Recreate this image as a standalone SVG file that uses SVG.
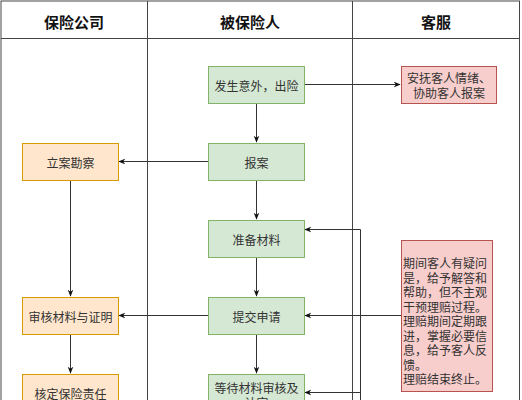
<svg xmlns="http://www.w3.org/2000/svg" width="522" height="400" viewBox="0 0 522 400">
<style>
.lane{fill:none;stroke:#444;stroke-width:1}
.hdr{font-family:"Noto Sans CJK SC","Liberation Sans",sans-serif;font-size:15px;font-weight:bold;fill:#111;text-anchor:middle;dominant-baseline:central}
.t{font-family:"Noto Sans CJK SC","Liberation Sans",sans-serif;font-size:12px;fill:#333;text-anchor:middle;dominant-baseline:central}
.tl{font-family:"Noto Sans CJK SC","Liberation Sans",sans-serif;font-size:12px;fill:#333;dominant-baseline:central}
.g{fill:#d5e8d4;stroke:#82b366}
.o{fill:#ffe6cc;stroke:#d79b00}
.r{fill:#f8cecc;stroke:#b85450}
.c{fill:none;stroke:#333;stroke-width:1}
</style>
<defs>
<marker id="a" viewBox="0 0 10 10" refX="9" refY="5" markerWidth="7" markerHeight="7" orient="auto" markerUnits="userSpaceOnUse"><path d="M0,1 L10,5 L0,9 L3,5 Z" fill="#111"/></marker>
</defs>
<rect width="522" height="400" fill="#fff"/>
<g id="lanes">
<rect class="lane" x="1" y="1" width="518.5" height="410"/>
<line class="lane" x1="1" y1="38.5" x2="519.5" y2="38.5"/>
<line class="lane" x1="147.5" y1="1" x2="147.5" y2="400"/>
<line class="lane" x1="352.5" y1="1" x2="352.5" y2="400"/>
<text class="hdr" x="74" y="21">保险公司</text>
<text class="hdr" x="250" y="21">被保险人</text>
<text class="hdr" x="436" y="21">客服</text>
</g>
<g id="connectors">
<line class="c" x1="304" y1="84.5" x2="400" y2="84.5" marker-end="url(#a)"/>
<line class="c" x1="256.5" y1="103" x2="256.5" y2="142" marker-end="url(#a)"/>
<line class="c" x1="256.5" y1="180" x2="256.5" y2="219" marker-end="url(#a)"/>
<line class="c" x1="256.5" y1="257" x2="256.5" y2="296" marker-end="url(#a)"/>
<line class="c" x1="256.5" y1="334" x2="256.5" y2="373" marker-end="url(#a)"/>
<line class="c" x1="208" y1="161.5" x2="119" y2="161.5" marker-end="url(#a)"/>
<line class="c" x1="70.5" y1="180" x2="70.5" y2="296" marker-end="url(#a)"/>
<line class="c" x1="208" y1="315.5" x2="119" y2="315.5" marker-end="url(#a)"/>
<line class="c" x1="70.5" y1="334" x2="70.5" y2="373" marker-end="url(#a)"/>
<line class="c" x1="401" y1="315.5" x2="305" y2="315.5" marker-end="url(#a)"/>
<path class="c" d="M360.5,400 L360.5,229.5 L305,229.5" marker-end="url(#a)"/>
<path class="c" d="M360.5,392.5 L305,392.5" marker-end="url(#a)"/>
</g>
<g id="n1"><rect class="g" x="208.5" y="66.5" width="96" height="37"/><text class="t" x="256.5" y="85">发生意外，出险</text></g>
<g id="n2"><rect class="r" x="401.5" y="66.5" width="95" height="37"/><text class="t" x="449" y="77">安抚客人情绪、<tspan x="449" dy="15">协助客人报案</tspan></text></g>
<g id="n3"><rect class="g" x="208.5" y="143.5" width="96" height="37"/><text class="t" x="256.5" y="162">报案</text></g>
<g id="n4"><rect class="o" x="22.5" y="143.5" width="96" height="37"/><text class="t" x="70.5" y="162">立案勘察</text></g>
<g id="n5"><rect class="g" x="208.5" y="220.5" width="96" height="37"/><text class="t" x="256.5" y="239">准备材料</text></g>
<g id="n6"><rect class="o" x="22.5" y="297.5" width="96" height="37"/><text class="t" x="70.5" y="316">审核材料与证明</text></g>
<g id="n7"><rect class="g" x="208.5" y="297.5" width="96" height="37"/><text class="t" x="256.5" y="316">提交申请</text></g>
<g id="n8"><rect class="o" x="22.5" y="374.5" width="96" height="37"/><text class="t" x="70.5" y="393">核定保险责任</text></g>
<g id="n9"><rect class="g" x="208.5" y="374.5" width="96" height="37"/><text class="t" x="256.5" y="387">等待材料审核及<tspan x="256.5" dy="15">认定</tspan></text></g>
<g id="n10"><rect class="r" x="401.5" y="240.5" width="91" height="151"/>
<text class="tl" x="403" y="262">期间客人有疑问<tspan x="403" dy="14.5">是，给予解答和</tspan><tspan x="403" dy="14.5">帮助，但不主观</tspan><tspan x="403" dy="14.5">干预理赔过程。</tspan><tspan x="403" dy="14.5">理赔期间定期跟</tspan><tspan x="403" dy="14.5">进，掌握必要信</tspan><tspan x="403" dy="14.5">息，给予客人反</tspan><tspan x="403" dy="14.5">馈。</tspan><tspan x="403" dy="14.5">理赔结束终止。</tspan></text>
</g>
</svg>
